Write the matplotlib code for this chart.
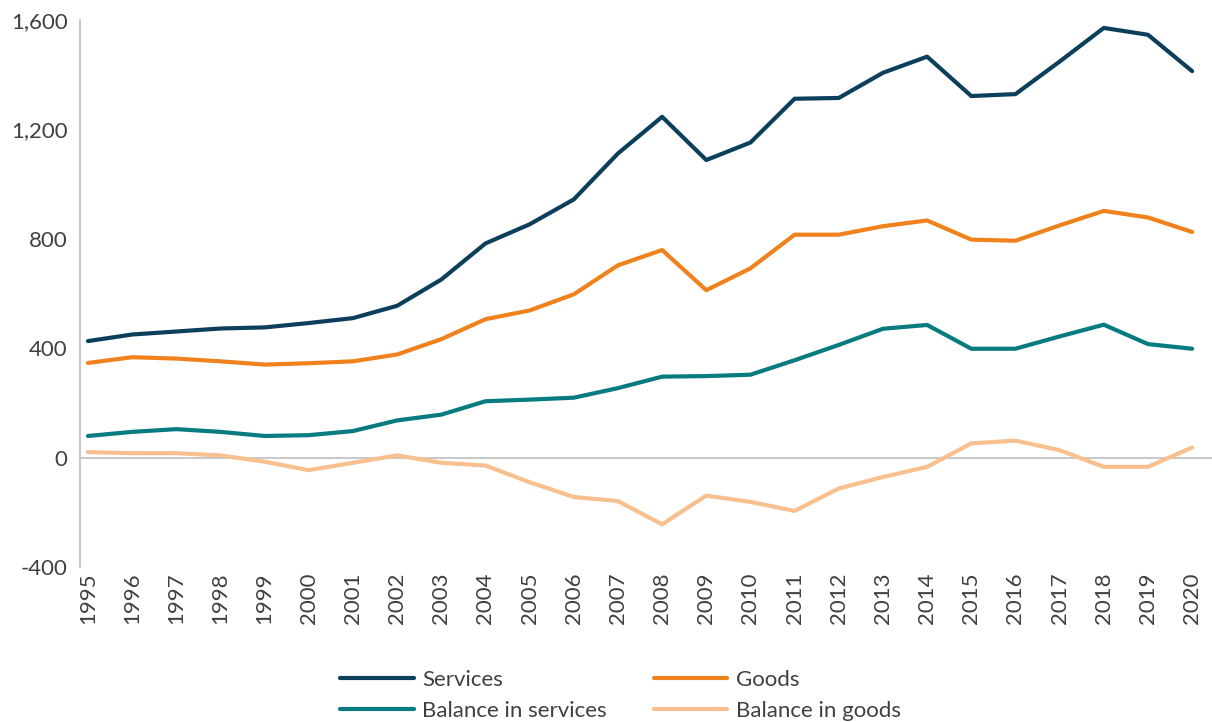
import numpy as np
import matplotlib
matplotlib.use('Agg')
import matplotlib.pyplot as plt
from matplotlib.ticker import FuncFormatter

plt.rcParams['font.family'] = ['Lato', 'DejaVu Sans']

years = list(range(1995, 2021))
services = [426, 450, 461, 472, 476, 492, 510, 555, 651, 783, 853, 944, 1112, 1246,
            1088, 1152, 1312, 1315, 1407, 1466, 1322, 1329, 1448, 1571, 1546, 1413]
goods = [346, 367, 362, 352, 340, 345, 352, 377, 433, 506, 538, 597, 703, 759,
         612, 692, 815, 815, 846, 867, 797, 793, 849, 902, 878, 825]
bal_services = [79, 94, 104, 94, 79, 82, 97, 136, 157, 206, 212, 219, 254, 296,
                298, 303, 356, 412, 471, 485, 398, 398, 443, 486, 415, 398]
bal_goods = [20, 16, 16, 8, -15, -46, -19, 8, -19, -29, -90, -144, -159, -244,
             -139, -162, -195, -113, -71, -34, 52, 62, 27, -34, -34, 37]

series = [
    ('Services', services, '#0c3f5c'),
    ('Goods', goods, '#f0821e'),
    ('Balance in services', bal_services, '#087b80'),
    ('Balance in goods', bal_goods, '#f8c08e'),
]

txt = '#404040'

fig = plt.figure(figsize=(12.12, 7.22), dpi=100)
ax = fig.add_axes([0.066, 0.2147, 0.934, 0.7576])

lines = {}
for name, vals, col in series:
    lines[name], = ax.plot(years, vals, color=col, lw=3, label=name,
                           solid_capstyle='round', zorder=3)

ax.axhline(0, color='#bfbfbf', lw=1.2, zorder=1)

ax.set_xlim(1994.82, 2020.45)
ax.set_ylim(-400, 1600)
ax.set_yticks([-400, 0, 400, 800, 1200, 1600])
ax.yaxis.set_major_formatter(FuncFormatter(lambda v, p: f'{int(v):,}'))
ax.set_xticks(years)
ax.set_xticklabels([str(y) for y in years], rotation=90)

for s in ['top', 'right', 'bottom']:
    ax.spines[s].set_visible(False)
ax.spines['left'].set_color('#bfbfbf')
ax.spines['left'].set_linewidth(1.2)

ax.tick_params(axis='both', length=0, colors=txt, labelsize=16)
ax.tick_params(axis='y', pad=9)
ax.tick_params(axis='x', pad=4)

# legend filled column-wise, so order to get Services | Goods on the first row
order = ['Services', 'Balance in services', 'Goods', 'Balance in goods']
fig.legend([lines[n] for n in order], order, loc='lower center',
           bbox_to_anchor=(0.512, -0.026), ncol=2, frameon=False,
           fontsize=16, handlelength=3.3, columnspacing=2.1, labelspacing=0.5,
           handletextpad=0.4, labelcolor=txt)

fig.savefig('out.png', dpi=100)
